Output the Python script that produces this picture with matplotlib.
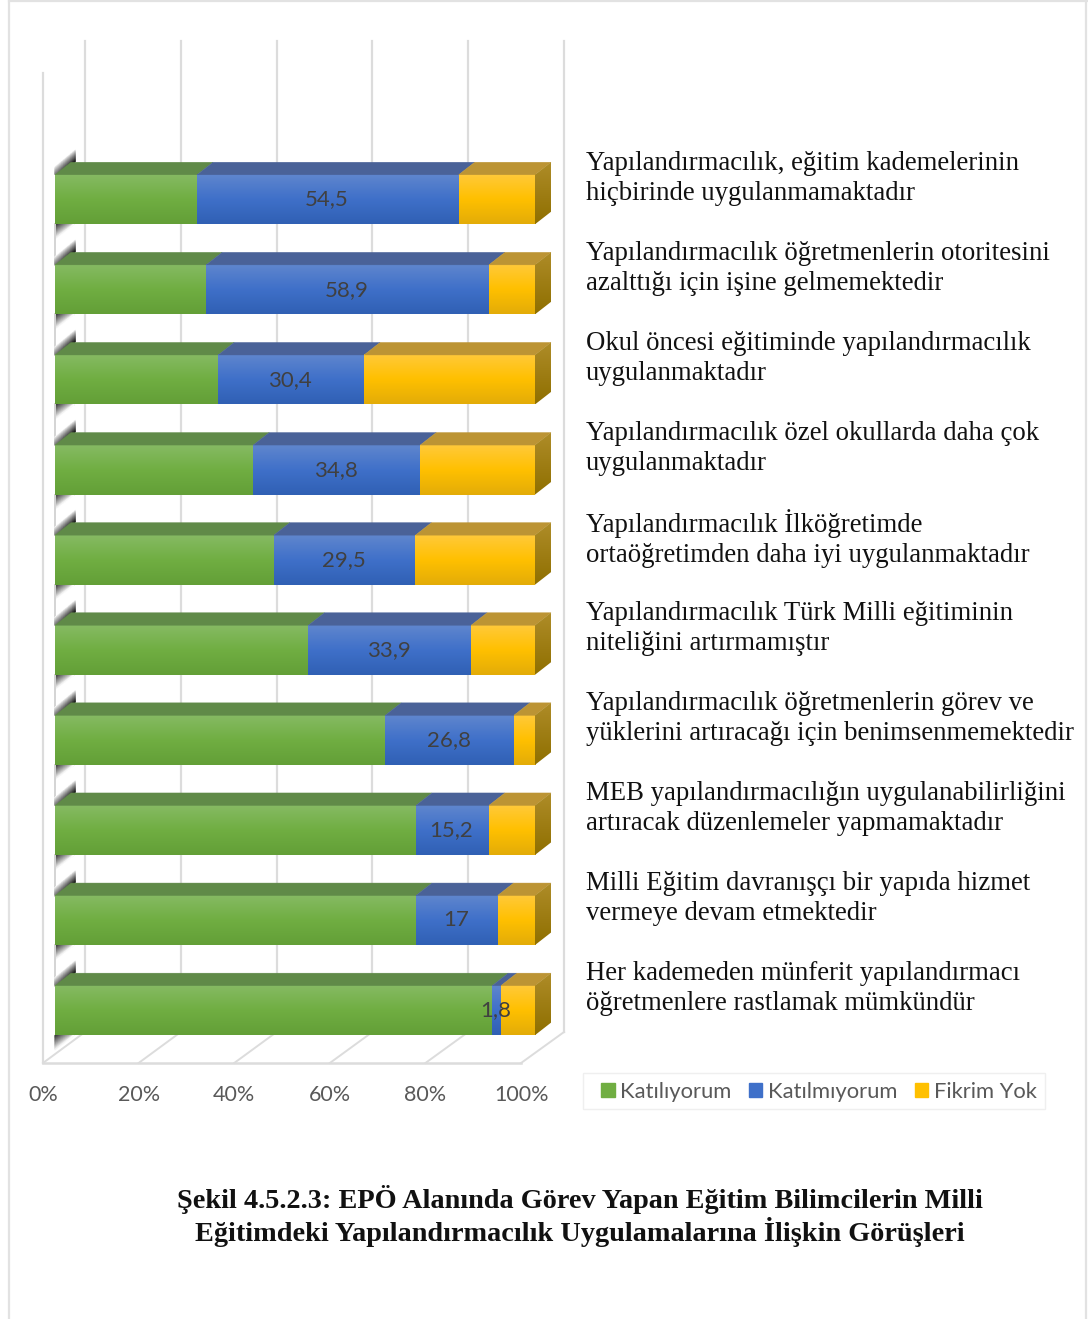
import matplotlib
matplotlib.use("Agg")
import matplotlib.pyplot as plt
import numpy as np
from matplotlib.colors import to_rgb
from matplotlib.lines import Line2D
from matplotlib.patches import Patch, Polygon, Rectangle

labels = [
    "Yapılandırmacılık, eğitim kademelerinin\nhiçbirinde uygulanmamaktadır",
    "Yapılandırmacılık öğretmenlerin otoritesini\nazalttığı için işine gelmemektedir",
    "Okul öncesi eğitiminde yapılandırmacılık\nuygulanmaktadır",
    "Yapılandırmacılık özel okullarda daha çok\nuygulanmaktadır",
    "Yapılandırmacılık İlköğretimde\nortaöğretimden daha iyi uygulanmaktadır",
    "Yapılandırmacılık Türk Milli eğitiminin\nniteliğini artırmamıştır",
    "Yapılandırmacılık öğretmenlerin görev ve\nyüklerini artıracağı için benimsenmemektedir",
    "MEB yapılandırmacılığın uygulanabilirliğini\nartıracak düzenlemeler yapmamaktadır",
    "Milli Eğitim davranışçı bir yapıda hizmet\nvermeye devam etmektedir",
    "Her kademeden münferit yapılandırmacı\nöğretmenlere rastlamak mümkündür",
]
katiliyorum = [29.6, 31.5, 34.0, 41.3, 45.6, 52.8, 68.8, 75.2, 75.2, 91.1]
katilmiyorum = [54.5, 58.9, 30.4, 34.8, 29.5, 33.9, 26.8, 15.2, 17.0, 1.8]
fikrim_yok = [15.9, 9.6, 35.6, 23.9, 24.9, 13.3, 4.4, 9.6, 7.8, 7.1]
blue_labels = ["54,5", "58,9", "30,4", "34,8", "29,5", "33,9", "26,8", "15,2", "17", "1,8"]
ticks = [0, 20, 40, 60, 80, 100]
series_names = ["Katılıyorum", "Katılmıyorum", "Fikrim Yok"]

W, H = 1088, 1319
PX_X = 4.8      # pixels per percent
PX_Y = 90.1     # pixels per category
DX = 16 / PX_X  # depth of the 3d bars
DY = 12.5 / PX_Y
BAR_H = 49.5 / PX_Y

front_cols = [("#86BA63", "#70AE42", "#639F37"),
              ("#5F86CE", "#3F70C9", "#3060B4"),
              ("#FFC939", "#FFC000", "#E3AC08")]
top_cols = ["#608A48", "#4A6298", "#BC9434"]
side_cols = ("#AE8C28", "#8F6F00")
serif = ["Liberation Serif", "DejaVu Serif"]
sans = ["Lato", "DejaVu Sans"]

fig = plt.figure(figsize=(W / 100, H / 100), dpi=100)
ax = fig.add_axes([0, 0, 1, 1])
ax.axis("off")
xlim = (-55 / PX_X, (W - 55) / PX_X)
ylim = ((H - 199.5) / PX_Y, -199.5 / PX_Y)


def gradient(cols, x0, x1, y0, y1, clip=None, z=3):
    stops = np.array([to_rgb(c) for c in cols])
    t = np.linspace(0, 1, 60)
    pos = np.linspace(0, 1, len(cols))
    img = np.stack([np.interp(t, pos, stops[:, k]) for k in range(3)], axis=1)[:, None, :]
    im = ax.imshow(img, extent=(x0, x1, y1, y0), origin="upper", aspect="auto",
                   interpolation="bilinear", zorder=z)
    if clip is not None:
        patch = Polygon(clip, closed=True, transform=ax.transData, fc="none", ec="none")
        ax.add_patch(patch)
        im.set_clip_path(patch)


# page border
for xs, ys in [((9, 9), (0, H)), ((9, W), (0.5, 0.5)), ((W - 2.5, W - 2.5), (0, H))]:
    fig.add_artist(Line2D([x / W for x in xs], [1 - y / H for y in ys], color="#e2e2e2", lw=1.6))

# walls and floor
yb_back = (1032 - 199.5) / PX_Y
yb_front = (1063 - 199.5) / PX_Y
y_top_back = (41 - 199.5) / PX_Y
y_top_front = (73 - 199.5) / PX_Y
grid = "#dcdcdc"
for t in ticks:
    xf = t * 0.996 - 2.5
    xb = t * 0.998 + 6.25
    ax.plot([xb, xb], [y_top_back, yb_back], color=grid, lw=1.6, zorder=1)
    ax.plot([xf, xb], [yb_front, yb_back], color=grid, lw=1.4, zorder=1)
    ax.text(xf, (1094.5 - 199.5) / PX_Y, f"{t}%", ha="center", va="center", fontsize=15.5,
            color="#595959", family=sans)
ax.plot([-2.5, -2.5], [y_top_front, yb_front], color=grid, lw=1.6, zorder=1)
ax.plot([-2.5, 97.1], [yb_front, yb_front], color=grid, lw=1.8, zorder=1)

# soft grey stubs behind the bars, shaded meshes in 0-1 coordinates
sx, sw = np.meshgrid(np.linspace(0, 1, 12), np.linspace(0, 1, 12))
up_val = 1 - sw ** 0.8 * (0.55 + 0.45 * sx) * 0.92
low_val = 1 - (1 - sw) ** 0.9 * (1 - 0.8 * sx) * 0.82

# bars
for i in range(len(labels)):
    top, bottom = i - BAR_H / 2, i + BAR_H / 2

    upper_edge = top - (8 + 17 * sx) / PX_Y
    lower_edge = top - 13 * sx / PX_Y
    ax.pcolormesh(sx * 4.2, upper_edge + sw * (lower_edge - upper_edge), up_val, cmap="gray",
                  vmin=0, vmax=1, shading="gouraud", zorder=2)
    low_edge = bottom + (1 - sx) * 15 / PX_Y
    ax.pcolormesh(sx * 4.0, bottom + sw * (low_edge - bottom), low_val, cmap="gray",
                  vmin=0, vmax=1, shading="gouraud", zorder=2)
    if i < len(labels) - 1:
        ax.plot([-0.1, -0.1], [bottom, i + 1 - BAR_H / 2], color="#d4d4d4", lw=1.4, zorder=2)

    left = 0
    vals = [katiliyorum[i], katilmiyorum[i], fikrim_yok[i]]
    for v, fc, tc in zip(vals, front_cols, top_cols):
        gradient(fc, left, left + v, top, bottom)
        ax.add_patch(Polygon([(left, top), (left + v, top), (left + v + DX, top - DY),
                              (left + DX, top - DY)], closed=True, fc=tc, ec=tc, lw=0.3, zorder=3))
        left += v
    side = [(left, top), (left + DX, top - DY), (left + DX, bottom - DY), (left, bottom)]
    gradient(side_cols, left, left + DX, top - DY, bottom, clip=side)

    ax.text(katiliyorum[i] + katilmiyorum[i] / 2 - 0.2, i, blue_labels[i], ha="center", va="center",
            fontsize=16, color="#404040", family=sans, zorder=5)
    ax.text((586 - 55) / PX_X, (90 * i - 21) / PX_Y, labels[i], ha="left", va="center", fontsize=19.3,
            color="#111111", family=serif, linespacing=1.29)

ax.set_xlim(xlim)
ax.set_ylim(ylim)

# legend, with its box drawn apart because the left padding is wider than the right
fig.add_artist(Rectangle((583 / W, 1 - 1109 / H), 462 / W, 36 / H, transform=fig.transFigure,
                         fc="white", ec="#efefef", lw=1))
handles = [Patch(color=c[1]) for c in front_cols]
leg = fig.legend(handles, series_names, ncol=3, loc="center left",
                 bbox_to_anchor=(601 / W, 1 - 1091.5 / H), frameon=False,
                 labelcolor="#595959", prop={"family": sans, "size": 15.8},
                 handlelength=0.62, handleheight=0.62, handletextpad=0.26, columnspacing=0.78,
                 borderpad=0, borderaxespad=0)

fig.text(579.5 / W, 1 - 1216 / H,
         "Şekil 4.5.2.3: EPÖ Alanında Görev Yapan Eğitim Bilimcilerin Milli\n"
         "Eğitimdeki Yapılandırmacılık Uygulamalarına İlişkin Görüşleri",
         ha="center", va="center", fontsize=20.3, fontweight="bold", family=serif,
         color="#111111", linespacing=1.1)

fig.savefig("out.png", dpi=100)
